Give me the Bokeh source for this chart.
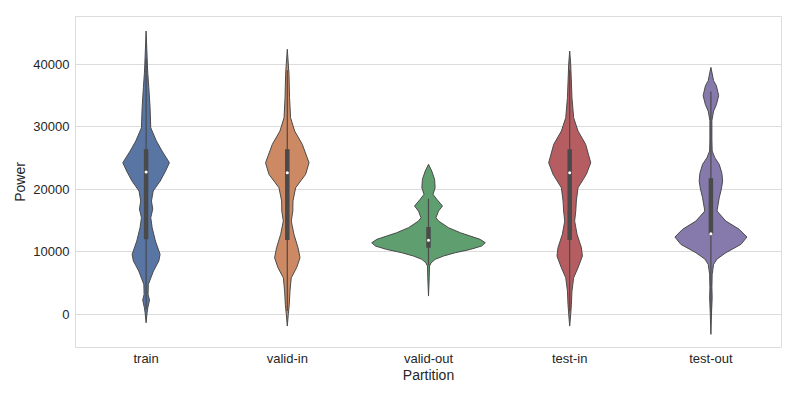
from bokeh.plotting import figure
from bokeh.models import FixedTicker, Range1d
from bokeh.embed import file_html
from bokeh.resources import INLINE

categories = ["train", "valid-in", "valid-out", "test-in", "test-out"]
colors = ["#5875a4", "#cc8963", "#5f9e6e", "#b55d60", "#857aab"]

# violin density profiles: Power value and half-width (in category units)
train_y = [45280, 40000, 38500, 36270, 33070, 29800, 27680, 26080, 24210, 22880, 21280, 19680,
           18080, 16800, 15410, 13810, 11680, 9550, 8480, 6880, 4750, 3150, 2230, 1000, 210, -1390]
train_w = [0, 0.009, 0.012, 0.019, 0.028, 0.033, 0.073, 0.113, 0.165, 0.138, 0.100, 0.050,
           0.038, 0.047, 0.033, 0.043, 0.066, 0.099, 0.090, 0.052, 0.016, 0.014, 0.024, 0.012,
           0.007, 0]

valid_in_y = [42350, 40000, 38350, 34610, 31410, 29280, 27150, 24210, 22350, 20210, 18080, 16480,
              14880, 12750, 10610, 9010, 7410, 5810, 3680, 1550, -50, -1920]
valid_in_w = [0, 0.007, 0.012, 0.016, 0.023, 0.052, 0.106, 0.154, 0.130, 0.059, 0.040, 0.039,
              0.028, 0.047, 0.076, 0.090, 0.066, 0.028, 0.019, 0.014, 0.007, 0]

valid_out_y = [23950, 22880, 21550, 20210, 19150, 18350, 17280, 16480, 15410, 14880, 13810, 13010,
               12480, 11950, 11410, 10880, 10340, 9810, 9280, 8750, 8210, 7680, 5810, 2880]
valid_out_w = [0, 0.023, 0.043, 0.047, 0.032, 0.059, 0.099, 0.071, 0.053, 0.071, 0.142, 0.225,
               0.296, 0.366, 0.402, 0.376, 0.296, 0.189, 0.106, 0.047, 0.019, 0.007, 0.005, 0]

test_in_y = [42080, 40000, 34610, 31410, 29280, 27150, 24210, 22350, 20210, 18080, 16480, 14880,
             12750, 10610, 9280, 7410, 5810, 3680, 1550, -50, -1920]
test_in_w = [0, 0.007, 0.016, 0.028, 0.059, 0.113, 0.149, 0.118, 0.059, 0.047, 0.043, 0.035,
             0.052, 0.083, 0.090, 0.059, 0.028, 0.016, 0.012, 0.007, 0]

test_out_y = [39460, 37330, 36500, 34940, 33500, 32480, 30950, 28000, 26080, 25000, 23950, 22500,
              21280, 20000, 18610, 16480, 14880, 13550, 12320, 11150, 9810, 8800, 7950, 6350,
              4210, 2610, 480, -3250]
test_out_w = [0, 0.019, 0.039, 0.055, 0.039, 0.019, 0.007, 0.007, 0.009, 0.028, 0.059, 0.078,
              0.083, 0.074, 0.059, 0.043, 0.106, 0.201, 0.255, 0.213, 0.106, 0.043, 0.019, 0.009,
              0.007, 0.009, 0.005, 0]

profiles_y = [train_y, valid_in_y, valid_out_y, test_in_y, test_out_y]
profiles_w = [train_w, valid_in_w, valid_out_w, test_in_w, test_out_w]

# inner box statistics
q1 = [11950, 11840, 10610, 11840, 12750]
median = [22720, 22610, 11790, 22610, 12850]
q3 = [26350, 26350, 13920, 26350, 21710]
whisk_lo = [800, 500, 7800, 500, 300]
whisk_hi = [40800, 39000, 18450, 39000, 35600]

y_ticks = [0, 10000, 20000, 30000, 40000]

FONT = "Liberation Sans"
TXT = "#262626"
GRID = "#dcdcdc"
EDGE = "#4a4a4a"

p = figure(width=797, height=399, output_backend="svg", toolbar_location=None,
           x_range=Range1d(-0.5, 4.5), y_range=Range1d(-5350, 47600),
           min_border_left=75, min_border_right=16, min_border_top=16, min_border_bottom=52)

for i, (ys, ws) in enumerate(zip(profiles_y, profiles_w)):
    xs = [i + w for w in ws] + [i - w for w in reversed(ws)]
    yy = list(ys) + list(reversed(ys))
    p.patch(xs, yy, fill_color=colors[i], line_color=EDGE, line_width=1.0)

xpos = list(range(len(categories)))
p.segment(x0=xpos, y0=whisk_lo, x1=xpos, y1=whisk_hi, line_color=EDGE, line_width=1.2)
p.segment(x0=xpos, y0=q1, x1=xpos, y1=q3, line_color=EDGE, line_width=4.5, line_cap="butt")
p.scatter(x=xpos, y=median, size=3, fill_color="white", line_color=None)

p.xaxis.ticker = FixedTicker(ticks=xpos)
p.xaxis.major_label_overrides = {i: c for i, c in enumerate(categories)}
p.yaxis.ticker = FixedTicker(ticks=y_ticks)
p.xgrid.visible = False
p.ygrid.grid_line_color = GRID
p.ygrid.grid_line_width = 1

p.xaxis.axis_label = "Partition"
p.yaxis.axis_label = "Power"
for ax in (p.xaxis[0], p.yaxis[0]):
    ax.axis_line_color = None
    ax.major_tick_line_color = None
    ax.minor_tick_line_color = None
    ax.major_tick_out = 0
    ax.major_tick_in = 0
    ax.major_label_text_font = FONT
    ax.major_label_text_font_size = "13px"
    ax.major_label_text_color = TXT
    ax.axis_label_text_font = FONT
    ax.axis_label_text_font_size = "14px"
    ax.axis_label_text_font_style = "normal"
    ax.axis_label_text_color = TXT
    ax.major_label_standoff = 6
    ax.axis_label_standoff = 2

p.xaxis.major_label_standoff = 3
p.xaxis.axis_label_standoff = -2

p.outline_line_color = GRID
p.outline_line_width = 1
p.background_fill_color = "white"
p.border_fill_color = "white"

open("out.html", "w").write(file_html(p, INLINE))
